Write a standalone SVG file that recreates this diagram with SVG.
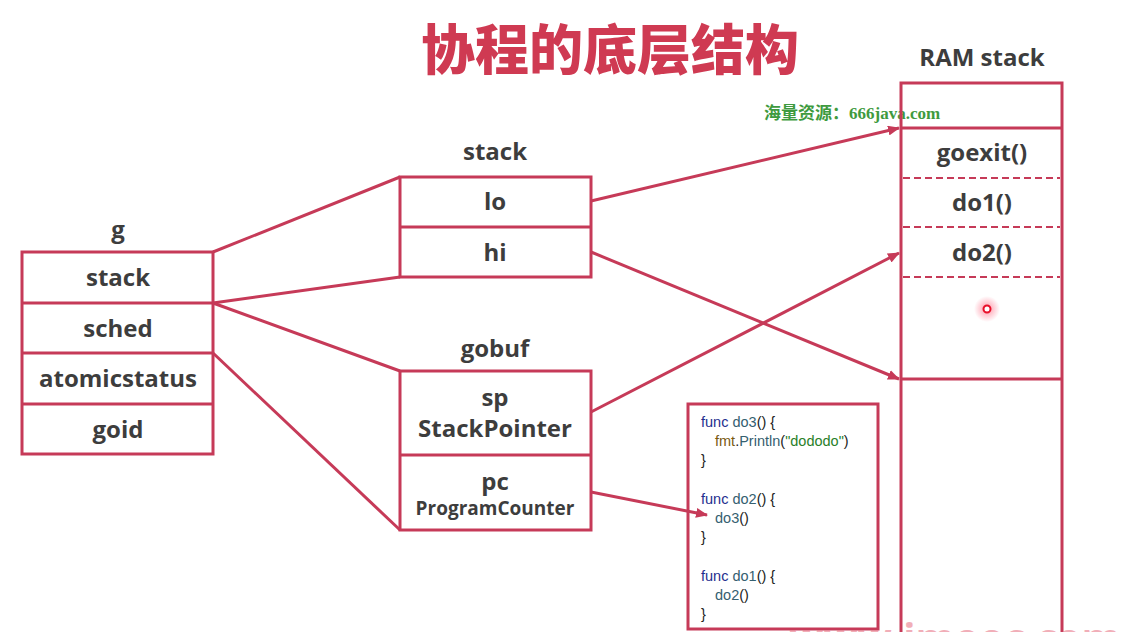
<svg xmlns="http://www.w3.org/2000/svg" width="1122" height="632" viewBox="0 0 1122 632">
<defs>
<marker id="arr" viewBox="0 0 12 10" refX="11" refY="5" markerWidth="12" markerHeight="10" markerUnits="userSpaceOnUse" orient="auto">
<path d="M0,0 L12,5 L0,10 Z" fill="#c63a58"/>
</marker>
<radialGradient id="glow">
<stop offset="0" stop-color="#ff4060" stop-opacity="0.55"/>
<stop offset="1" stop-color="#ff4060" stop-opacity="0"/>
</radialGradient>
</defs>
<style>
.box{fill:#fff;stroke:#c63a58;stroke-width:3}
.sep{stroke:#c63a58;stroke-width:3;fill:none}
.dash{stroke:#c63a58;stroke-width:2;stroke-dasharray:7 4;fill:none}
.ln{stroke:#c63a58;stroke-width:3;fill:none}
.t{font-family:"Open Sans","Noto Sans",sans-serif;font-weight:bold;fill:#3d3d3d;text-anchor:middle}
.c{font-family:"Liberation Sans",Arial,sans-serif;font-size:14.5px;fill:#222}
.kw{fill:#1f2f8f}.fn{fill:#356070}.pk{fill:#7a5a10}.st{fill:#2a7f2a}
</style>
<rect width="1122" height="632" fill="#fff"/>
<text x="610" y="70" font-family="'Noto Sans CJK SC',sans-serif" font-weight="900" font-size="54" fill="#cf3a52" text-anchor="middle">协程的底层结构</text>
<text x="764" y="119" font-family="'Liberation Serif','Noto Sans CJK SC',serif" font-weight="bold" font-size="17" fill="#3e9a3e">海量资源：666java.com</text>

<g id="g">
<text class="t" x="118" y="238" font-size="24">g</text>
<rect class="box" x="22" y="252" width="191" height="202"/>
<path class="sep" d="M22,303 H213 M22,353 H213 M22,404 H213"/>
<text class="t" x="118" y="286" font-size="24">stack</text>
<text class="t" x="118" y="337" font-size="24">sched</text>
<text class="t" x="118" y="387" font-size="24">atomicstatus</text>
<text class="t" x="118" y="438" font-size="24">goid</text>
</g>

<g id="stack">
<text class="t" x="495" y="160" font-size="24">stack</text>
<rect class="box" x="400" y="177" width="191" height="100"/>
<path class="sep" d="M400,227 H591"/>
<text class="t" x="495" y="210" font-size="24">lo</text>
<text class="t" x="495" y="261" font-size="24">hi</text>
</g>

<g id="gobuf">
<text class="t" x="495" y="357" font-size="24">gobuf</text>
<rect class="box" x="400" y="371" width="191" height="159"/>
<path class="sep" d="M400,455 H591"/>
<text class="t" x="495" y="406" font-size="24">sp</text>
<text class="t" x="495" y="437" font-size="24">StackPointer</text>
<text class="t" x="495" y="490" font-size="24">pc</text>
<text class="t" x="495" y="515" font-size="19">ProgramCounter</text>
</g>

<g id="ram">
<text class="t" x="982" y="66" font-size="24">RAM stack</text>
<path class="sep" d="M901,640 V83 H1062 V640"/>
<path class="sep" d="M901,128 H1062 M901,379 H1062"/>
<path class="dash" d="M903,178 H1060 M903,227 H1060 M903,277 H1060"/>
<text class="t" x="982" y="161" font-size="24">goexit()</text>
<text class="t" x="982" y="211" font-size="24">do1()</text>
<text class="t" x="982" y="261" font-size="24">do2()</text>
<circle cx="987" cy="309" r="13" fill="url(#glow)"/>
<circle cx="987" cy="309" r="3.5" fill="#fff" stroke="#e8102a" stroke-width="2"/>
</g>

<g id="code">
<rect class="box" x="688" y="404" width="190" height="225"/>
<text class="c" x="701" y="427"><tspan class="kw">func</tspan> <tspan class="fn">do3</tspan>() {</text>
<text class="c" x="715" y="446"><tspan class="pk">fmt</tspan>.<tspan class="fn">Println</tspan>(<tspan class="st">"dododo"</tspan>)</text>
<text class="c" x="701" y="465">}</text>
<text class="c" x="701" y="504"><tspan class="kw">func</tspan> <tspan class="fn">do2</tspan>() {</text>
<text class="c" x="715" y="523"><tspan class="fn">do3</tspan>()</text>
<text class="c" x="701" y="542">}</text>
<text class="c" x="701" y="581"><tspan class="kw">func</tspan> <tspan class="fn">do1</tspan>() {</text>
<text class="c" x="715" y="600"><tspan class="fn">do2</tspan>()</text>
<text class="c" x="701" y="619">}</text>
</g>

<g id="connectors">
<path class="ln" d="M213,252 L400,177"/>
<path class="ln" d="M213,303 L400,277"/>
<path class="ln" d="M213,303 L400,371"/>
<path class="ln" d="M213,353 L400,530"/>
<path class="ln" d="M591,201 L899,128" marker-end="url(#arr)"/>
<path class="ln" d="M591,252 L899,379" marker-end="url(#arr)"/>
<path class="ln" d="M591,412 L899,253" marker-end="url(#arr)"/>
<path class="ln" d="M591,492 L707,515" marker-end="url(#arr)"/>
</g>

<text x="955" y="652" font-family="'Open Sans',sans-serif" font-weight="bold" font-size="40" fill="#e87a8a" opacity="0.6" text-anchor="middle">www.imooc.com</text>
</svg>
